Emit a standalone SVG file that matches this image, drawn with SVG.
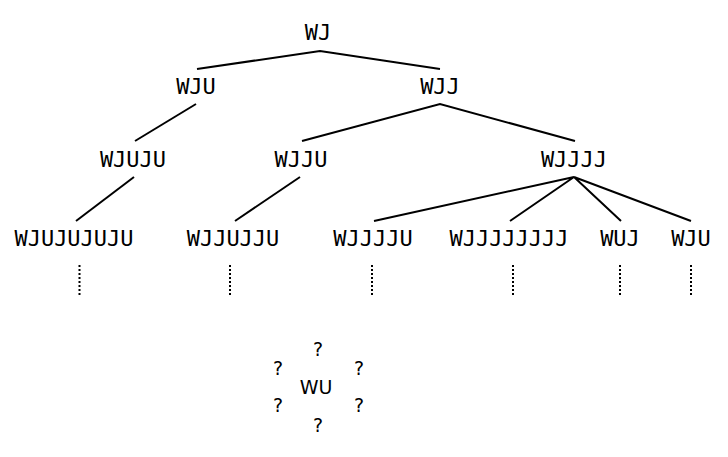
<svg xmlns="http://www.w3.org/2000/svg" width="728" height="457" viewBox="0 0 728 457">
<style>
.t{font-family:"DejaVu Sans Mono",monospace;font-size:22px;fill:#000;text-anchor:middle}
.s{font-family:"DejaVu Sans",sans-serif;font-size:19px;fill:#000;text-anchor:middle}
.e{stroke:#000;stroke-width:2;fill:none}
.d{stroke:#000;stroke-width:2;stroke-dasharray:2 2;fill:none}
</style>
<rect width="728" height="457" fill="#fff"/>
<g id="connectors">
<path class="e" d="M197 69L320 51L440 69"/>
<path class="e" d="M196 104L135 141"/>
<path class="e" d="M302 141L440 104L575 141"/>
<path class="e" d="M134 177L76 221"/>
<path class="e" d="M300 177L235 221"/>
<path class="e" d="M374 221L574 177L510 221M574 177L621 221M574 177L691 221"/>
<path class="d" d="M79.5 265V295M230 265V295M372 265V295M513 265V295M620 265V295M691 265V295"/>
</g>
<g id="n-WJ"><text class="t" x="318" y="40">WJ</text></g>
<g id="n-WJU"><text class="t" x="196" y="94">WJU</text></g>
<g id="n-WJJ"><text class="t" x="440" y="94">WJJ</text></g>
<g id="n-WJUJU"><text class="t" x="133" y="167">WJUJU</text></g>
<g id="n-WJJU"><text class="t" x="301" y="167">WJJU</text></g>
<g id="n-WJJJJ"><text class="t" x="574" y="167">WJJJJ</text></g>
<g id="n-WJUJUJUJU"><text class="t" x="74" y="246">WJUJUJUJU</text></g>
<g id="n-WJJUJJU"><text class="t" x="233" y="246">WJJUJJU</text></g>
<g id="n-WJJJJU"><text class="t" x="373" y="246">WJJJJU</text></g>
<g id="n-WJJJJJJJJ"><text class="t" x="509" y="246">WJJJJJJJJ</text></g>
<g id="n-WUJ"><text class="t" x="620" y="246">WUJ</text></g>
<g id="n-WJU2"><text class="t" x="691" y="246">WJU</text></g>
<g id="wu-group">
<text class="s" x="316" y="394">WU</text>
<text class="s" x="318" y="356">?</text>
<text class="s" x="278" y="375">?</text>
<text class="s" x="359" y="375">?</text>
<text class="s" x="278" y="412">?</text>
<text class="s" x="359" y="412">?</text>
<text class="s" x="318" y="432">?</text>
</g>
</svg>
